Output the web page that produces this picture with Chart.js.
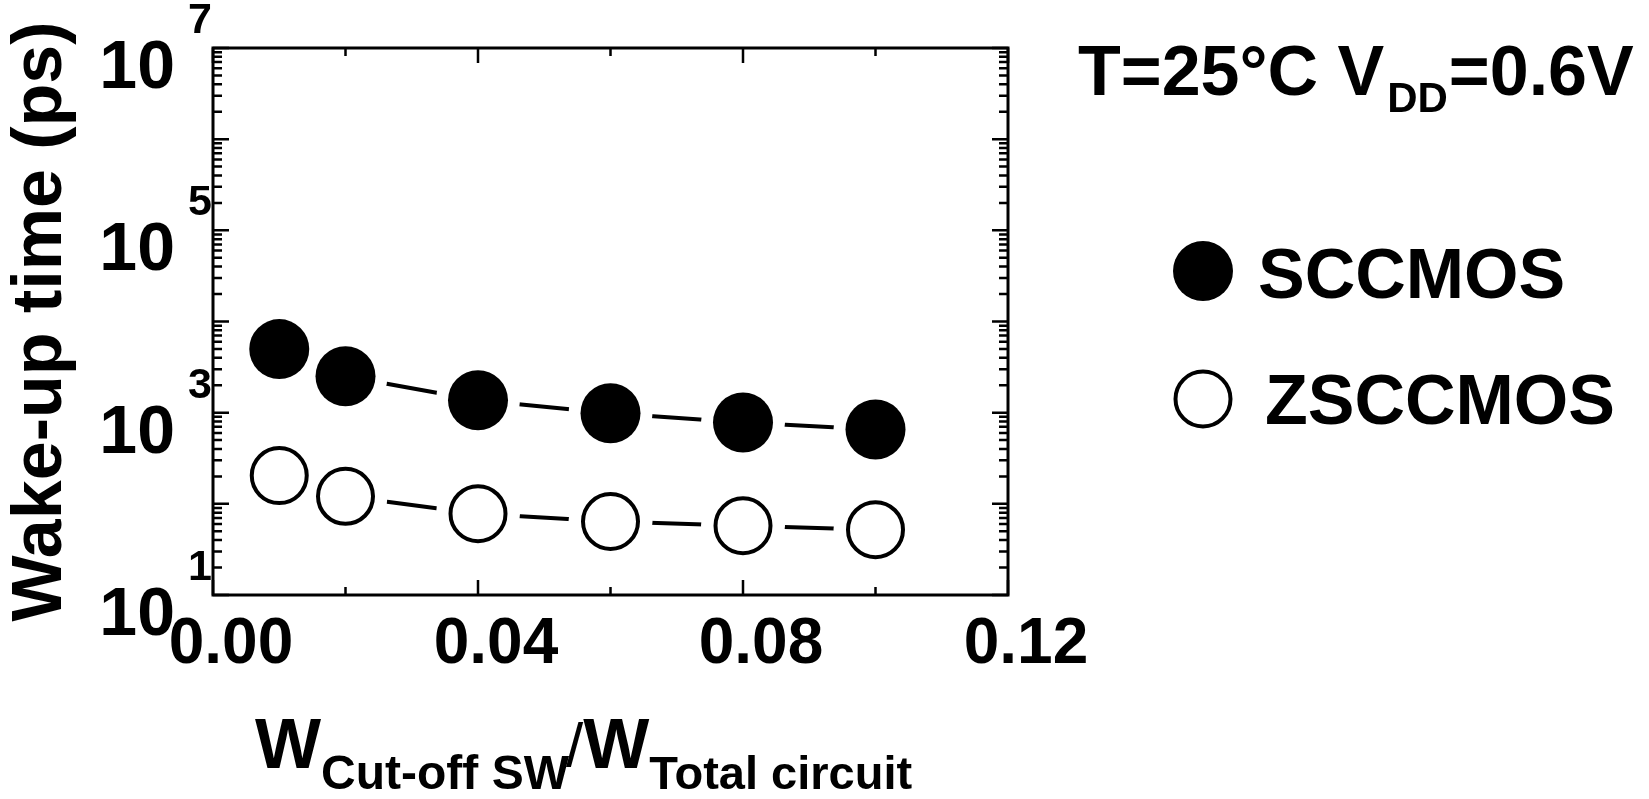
<!DOCTYPE html>
<html>
<head>
<meta charset="utf-8">
<title>Wake-up time vs cut-off switch width</title>
<script src="https://cdn.jsdelivr.net/npm/chart.js@4.4.1/dist/chart.umd.min.js"></script>
<style>
  html, body { margin: 0; padding: 0; background: #fff; }
  #wrap { position: relative; width: 1649px; height: 799px; }
</style>
</head>
<body>
<div id="wrap"><canvas id="wakeChart"></canvas></div>
<script>
// values (ps, log axis)
const xRatio = [0.01, 0.02, 0.04, 0.06, 0.08, 0.10];
const sccmosPs = [4980, 2510, 1370, 985, 780, 655];
const zsccmosPs = [204, 121, 78, 64, 57.5, 52];

const seriesNames = ['SCCMOS', 'ZSCCMOS'];
const xTickVals = [0.00, 0.04, 0.08, 0.12];
const xMinorVals = [0.02, 0.06, 0.10];
const yDecades = [1, 2, 3, 4, 5, 6, 7];
const yLabelExps = [1, 3, 5, 7];

const FONT = "'Liberation Sans', Arial, Helvetica, sans-serif";
const bold = px => 'bold ' + px + 'px ' + FONT;

function pts(ys) {
  return xRatio.map((x, i) => ({ x: x, y: ys[i] }));
}

// frame, inward ticks, log labels, legend and the free texts
const figurePlugin = {
  id: 'figure',
  afterDraw(chart) {
    const ctx = chart.ctx;
    const { left, right, top, bottom } = chart.chartArea;
    const xs = chart.scales.x;
    const ys = chart.scales.y;

    ctx.save();
    ctx.strokeStyle = '#000';
    ctx.fillStyle = '#000';
    ctx.lineWidth = 3;
    ctx.strokeRect(left, top, right - left, bottom - top);

    ctx.lineWidth = 2.5;
    ctx.beginPath();
    yDecades.forEach(e => {
      const p = ys.getPixelForValue(Math.pow(10, e));
      ctx.moveTo(left, p); ctx.lineTo(left + 16, p);
      ctx.moveTo(right, p); ctx.lineTo(right - 16, p);
      if (e < 7) {
        for (let m = 2; m <= 9; m++) {
          const q = ys.getPixelForValue(m * Math.pow(10, e));
          ctx.moveTo(left, q); ctx.lineTo(left + 9, q);
          ctx.moveTo(right, q); ctx.lineTo(right - 9, q);
        }
      }
    });
    xTickVals.forEach(v => {
      const p = xs.getPixelForValue(v);
      ctx.moveTo(p, bottom); ctx.lineTo(p, bottom - 15);
      ctx.moveTo(p, top); ctx.lineTo(p, top + 15);
    });
    xMinorVals.forEach(v => {
      const p = xs.getPixelForValue(v);
      ctx.moveTo(p, bottom); ctx.lineTo(p, bottom - 8);
      ctx.moveTo(p, top); ctx.lineTo(p, top + 8);
    });
    ctx.stroke();

    // y labels 10^n
    ctx.textBaseline = 'alphabetic';
    yLabelExps.forEach(e => {
      const p = ys.getPixelForValue(Math.pow(10, e));
      ctx.font = bold(68);
      ctx.textAlign = 'right';
      ctx.fillText('10', 175, p + 40);
      ctx.font = bold(43);
      ctx.textAlign = 'left';
      ctx.fillText(String(e), 188, p - 15);
    });

    // condition text
    ctx.textAlign = 'left';
    let x = 1078;
    ctx.font = bold(70);
    ctx.fillText('T=25°C V', x, 95);
    x += ctx.measureText('T=25°C V').width + 3;
    ctx.font = bold(42);
    ctx.fillText('DD', x, 112);
    x += ctx.measureText('DD').width + 1;
    ctx.font = bold(70);
    ctx.fillText('=0.6V', x, 95);

    // legend, styled from the marker datasets
    const legendRows = [
      { ds: chart.data.datasets[4], cy: 271, tx: 1258, base: 298 },
      { ds: chart.data.datasets[5], cy: 399, tx: 1265, base: 424 }
    ];
    legendRows.forEach(r => {
      ctx.beginPath();
      ctx.arc(1203, r.cy, r.ds.pointRadius, 0, Math.PI * 2);
      ctx.fillStyle = r.ds.pointBackgroundColor;
      ctx.fill();
      if (r.ds.pointBorderWidth > 0) {
        ctx.lineWidth = r.ds.pointBorderWidth;
        ctx.strokeStyle = r.ds.pointBorderColor;
        ctx.stroke();
      }
      ctx.fillStyle = '#000';
      ctx.font = bold(70);
      ctx.fillText(r.ds.label, r.tx, r.base);
    });

    // x axis title with subscripts
    x = 255;
    ctx.font = bold(70);
    ctx.fillText('W', x, 768);
    x += ctx.measureText('W').width;
    ctx.font = bold(48);
    ctx.fillText('Cut-off SW', x, 789);
    x += ctx.measureText('Cut-off SW').width - 3;
    ctx.font = '62px ' + FONT;
    ctx.fillText('/', x, 766);
    x += ctx.measureText('/').width;
    ctx.font = bold(70);
    ctx.fillText('W', x, 768);
    x += ctx.measureText('W').width;
    ctx.font = bold(47);
    ctx.fillText('Total circuit', x, 789);

    ctx.restore();
  }
};

const lineStyle = { showLine: true, borderColor: '#000', borderWidth: 4, pointRadius: 0, order: 3 };
const haloStyle = { showLine: false, pointRadius: 42, pointBackgroundColor: '#fff', pointBorderWidth: 0, order: 2 };

new Chart(document.getElementById('wakeChart'), {
  type: 'line',
  data: {
    datasets: [
      Object.assign({ label: seriesNames[0] + ' line', data: pts(sccmosPs) }, lineStyle),
      Object.assign({ label: seriesNames[1] + ' line', data: pts(zsccmosPs) }, lineStyle),
      Object.assign({ label: seriesNames[0] + ' gap', data: pts(sccmosPs) }, haloStyle),
      Object.assign({ label: seriesNames[1] + ' gap', data: pts(zsccmosPs) }, haloStyle),
      {
        label: seriesNames[0],
        data: pts(sccmosPs),
        showLine: false,
        pointRadius: 30,
        pointBackgroundColor: '#000',
        pointBorderColor: '#000',
        pointBorderWidth: 0,
        order: 1
      },
      {
        label: seriesNames[1],
        data: pts(zsccmosPs),
        showLine: false,
        pointRadius: 27.5,
        pointBackgroundColor: '#fff',
        pointBorderColor: '#000',
        pointBorderWidth: 4,
        order: 1
      }
    ]
  },
  options: {
    responsive: true,
    maintainAspectRatio: false,
    devicePixelRatio: 1,
    animation: false,
    events: [],
    layout: { padding: { top: 48, right: 641, bottom: 0, left: 0 } },
    plugins: {
      legend: { display: false },
      tooltip: { enabled: false }
    },
    scales: {
      x: {
        type: 'linear',
        min: 0,
        max: 0.12,
        grid: { display: false, drawTicks: false },
        border: { display: false },
        afterBuildTicks: scale => { scale.ticks = xTickVals.map(v => ({ value: v })); },
        afterFit: scale => { scale.height = 204; },
        ticks: {
          color: '#000',
          font: { family: FONT, size: 64, weight: 'bold', lineHeight: 1.2 },
          padding: 12,
          labelOffset: 18,
          maxRotation: 0,
          autoSkip: false,
          callback: v => Number(v).toFixed(2)
        }
      },
      y: {
        type: 'logarithmic',
        min: 10,
        max: 1e7,
        grid: { display: false, drawTicks: false },
        border: { display: false },
        ticks: { display: false },
        afterFit: scale => { scale.width = 213; },
        title: {
          display: true,
          text: 'Wake-up time (ps)',
          color: '#000',
          font: { family: FONT, size: 70, weight: 'bold', lineHeight: 1 },
          padding: { top: 7, bottom: 0 }
        }
      }
    }
  },
  plugins: [figurePlugin]
});
</script>
</body>
</html>
